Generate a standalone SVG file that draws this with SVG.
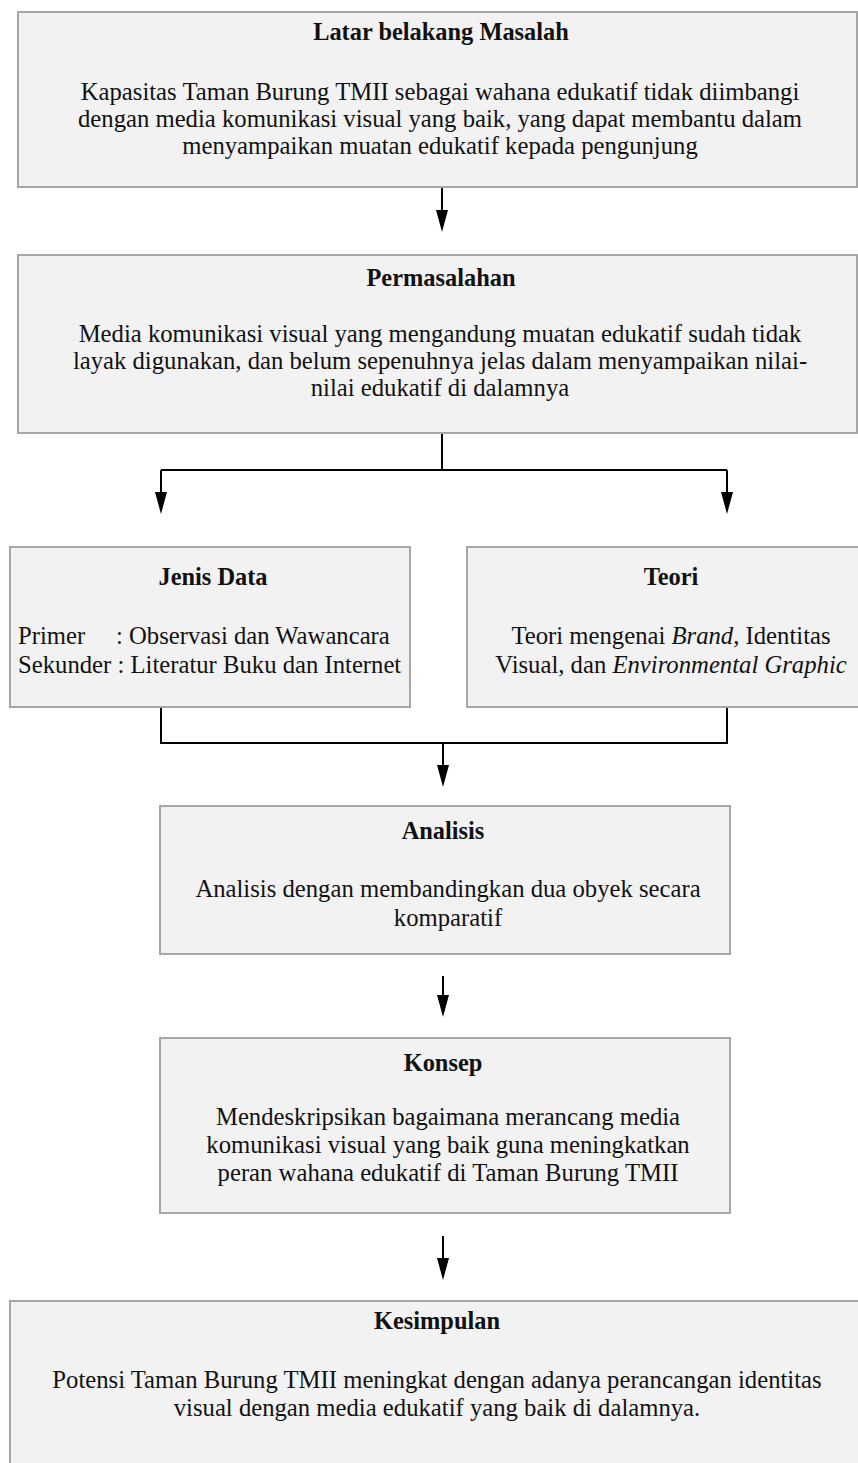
<svg xmlns="http://www.w3.org/2000/svg" width="858" height="1463" viewBox="0 0 858 1463">
<style>
.box{fill:#f2f2f2;stroke:#a6a6a6;stroke-width:2}
.t{font-family:"Liberation Serif","Times New Roman","DejaVu Serif",serif;font-size:24.7px;fill:#111;text-anchor:middle}
.b{font-weight:bold;font-size:24.4px}
.l{text-anchor:start}
.c{fill:none;stroke:#000;stroke-width:2}
</style>
<g id="connectors">
<path class="c" d="M442,188 V210"/><path d="M436,210 L448,210 L442,232 Z"/>
<path class="c" d="M442,434 V470 M161,470 H727 M161,470 V492 M727,470 V492"/>
<path d="M155,492 L167,492 L161,514 Z"/><path d="M721,492 L733,492 L727,514 Z"/>
<path class="c" d="M161,708 V743 H727 V708 M443,743 V765"/>
<path d="M437,765 L449,765 L443,787 Z"/>
<path class="c" d="M443,976 V995"/><path d="M437,995 L449,995 L443,1017 Z"/>
<path class="c" d="M443,1236 V1258"/><path d="M437,1258 L449,1258 L443,1280 Z"/>
</g>
<g id="latar">
<rect class="box" x="18" y="12" width="839" height="175"/>
<text class="t b" x="441" y="40">Latar belakang Masalah</text>
<text class="t" x="440" y="100">Kapasitas Taman Burung TMII sebagai wahana edukatif tidak diimbangi</text>
<text class="t" x="440" y="127">dengan media komunikasi visual yang baik, yang dapat membantu dalam</text>
<text class="t" x="440" y="154">menyampaikan muatan edukatif kepada pengunjung</text>
</g>
<g id="permasalahan">
<rect class="box" x="18" y="255" width="839" height="178"/>
<text class="t b" x="441" y="286">Permasalahan</text>
<text class="t" x="440" y="342">Media komunikasi visual yang mengandung muatan edukatif sudah tidak</text>
<text class="t" x="440" y="369">layak digunakan, dan belum sepenuhnya jelas dalam menyampaikan nilai-</text>
<text class="t" x="440" y="396">nilai edukatif di dalamnya</text>
</g>
<g id="jenis">
<rect class="box" x="10" y="547" width="400" height="160"/>
<text class="t b" x="213" y="585">Jenis Data</text>
<text class="t l" x="18" y="644">Primer</text>
<text class="t l" x="116" y="644">: Observasi dan Wawancara</text>
<text class="t l" x="18" y="673">Sekunder : Literatur Buku dan Internet</text>
</g>
<g id="teori">
<rect class="box" x="467" y="547" width="392" height="160"/>
<text class="t b" x="671" y="585">Teori</text>
<text class="t" x="671" y="644">Teori mengenai <tspan font-style="italic">Brand</tspan>, Identitas</text>
<text class="t" x="671" y="673">Visual, dan <tspan font-style="italic">Environmental Graphic</tspan></text>
</g>
<g id="analisis">
<rect class="box" x="160" y="806" width="570" height="148"/>
<text class="t b" x="443" y="839">Analisis</text>
<text class="t" x="448" y="897">Analisis dengan membandingkan dua obyek secara</text>
<text class="t" x="448" y="926">komparatif</text>
</g>
<g id="konsep">
<rect class="box" x="160" y="1038" width="570" height="175"/>
<text class="t b" x="443" y="1071">Konsep</text>
<text class="t" x="448" y="1125">Mendeskripsikan bagaimana merancang media</text>
<text class="t" x="448" y="1153">komunikasi visual yang baik guna meningkatkan</text>
<text class="t" x="448" y="1181">peran wahana edukatif di Taman Burung TMII</text>
</g>
<g id="kesimpulan">
<rect class="box" x="10" y="1301" width="849" height="175"/>
<text class="t b" x="437" y="1329">Kesimpulan</text>
<text class="t" x="437" y="1388">Potensi Taman Burung TMII meningkat dengan adanya perancangan identitas</text>
<text class="t" x="437" y="1416">visual dengan media edukatif yang baik di dalamnya.</text>
</g>
</svg>
